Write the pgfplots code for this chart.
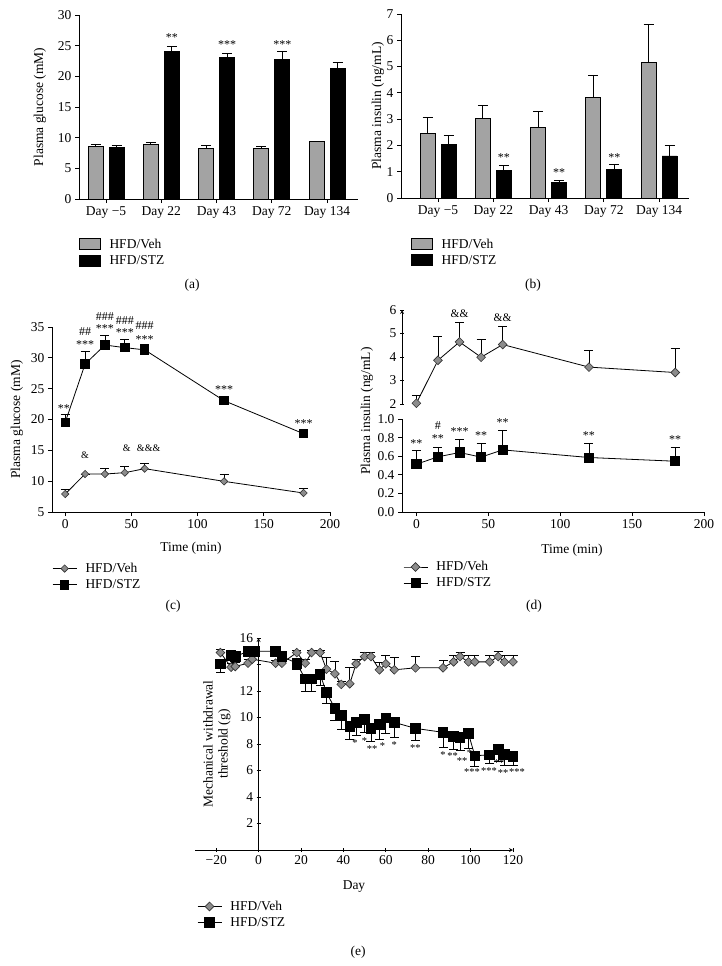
\documentclass[border=0pt]{standalone}
\usepackage{fontspec}
\setmainfont{Liberation Serif}
\usepackage{pgfplots}
\pgfplotsset{compat=1.18}
\newcommand{\fs}{\fontsize{13.5}{15}\selectfont}
\newcommand{\sfs}{\fontsize{12}{12}\selectfont}
\newcommand{\efs}{\fontsize{10.5}{11}\selectfont}
\newcommand{\afs}{\fontsize{10}{11}\selectfont}
\definecolor{vehbar}{RGB}{163,163,163}
\definecolor{vehmark}{RGB}{140,140,140}
\definecolor{edge}{RGB}{50,50,50}
\tikzset{st/.style={font=\sfs, inner sep=0pt}, est/.style={font=\efs, inner sep=0pt}}
\pgfplotsset{
  prism/.style={scale only axis, axis lines=left, axis line style={-, line width=0.8pt, black},
    tick align=outside, major tick length=4pt, tick style={line width=0.8pt, black},
    /pgf/number format/assume math mode=true, clip=false,
    tick label style={font=\fs}, label style={font=\fs},
    legend style={draw=none, fill=none, anchor=north west, font=\fs, inner sep=0pt, row sep=3.5pt,
      nodes={inner sep=1pt}, /tikz/every odd column/.append style={column sep=7.5pt}},
    legend cell align=left},
  barleg/.style={legend image code/.code={\draw[##1] (0pt,-5.5pt) rectangle (21pt,5.5pt);}},
  lineleg/.style={legend image code/.code={\draw[mark repeat=2,mark phase=2,##1] plot coordinates {(0pt,0pt) (12pt,0pt) (24pt,0pt)};}},
  errup/.style={error bars/.cd, y dir=plus, y explicit, error bar style={line width=0.8pt, black}, error mark options={rotate=90, black, line width=0.8pt, mark size=#1}},
  errdn/.style={error bars/.cd, y dir=minus, y explicit, error bar style={line width=0.8pt, black}, error mark options={rotate=90, black, line width=0.8pt, mark size=#1}},
  vehline/.style={black, line width=0.8pt, mark=square*, mark size=#1, mark options={rotate=45, fill=vehmark, draw=edge, line width=0.6pt}},
  stzline/.style={black, line width=0.8pt, mark=square*, mark size=#1, mark options={fill=black, draw=black}},
}
\begin{document}
\begin{tikzpicture}
\path[use as bounding box] (0pt,0pt) rectangle (722pt,-966pt);

% ---------------- (a) ----------------
\begin{axis}[prism, at={(79pt,-199pt)}, anchor=south west, width=279pt, height=184pt,
  xmin=-0.489, xmax=4.56, ymin=0, ymax=30,
  xtick={0,1,2,3,4}, xticklabels={Day −5,Day 22,Day 43,Day 72,Day 134},
  ytick={0,5,...,30},
  ylabel={Plasma glucose (mM)}, ylabel style={at={(axis description cs:-0.14,0.5)}, anchor=center},
  legend style={at={(axis description cs:0,-0.21)}}]
\addplot[ybar, bar width=15pt, bar shift=0pt, fill=vehbar, draw=black, line width=0.8pt, barleg, errup=5pt]
  coordinates {(-0.19,8.52) +- (0,0.32) (0.81,8.9) +- (0,0.38) (1.81,8.19) +- (0,0.49) (2.81,8.3) +- (0,0.27) (3.81,9.35) +- (0,0.05)};
\addlegendentry{HFD/Veh}
\addplot[ybar, bar width=15pt, bar shift=0pt, fill=black, draw=black, line width=0.8pt, barleg, errup=5pt]
  coordinates {(0.19,8.36) +- (0,0.43) (1.19,24.04) +- (0,0.86) (2.19,23.1) +- (0,0.67) (3.19,22.8) +- (0,1.2) (4.19,21.3) +- (0,0.95)};
\addlegendentry{HFD/STZ}
\node[st] at (axis cs:1.19,26.3) {**};
\node[st] at (axis cs:2.19,25.1) {***};
\node[st] at (axis cs:3.19,25.1) {***};
\end{axis}
\node[font=\fs] at (192pt,-285pt) {(a)};

% ---------------- (b) ----------------
\begin{axis}[prism, at={(401pt,-198pt)}, anchor=south west, width=288pt, height=184pt,
  xmin=-0.67, xmax=4.54, ymin=0, ymax=7,
  xtick={0,1,2,3,4}, xticklabels={Day −5,Day 22,Day 43,Day 72,Day 134},
  ytick={0,1,...,7},
  ylabel={Plasma insulin (ng/mL)}, ylabel style={at={(axis description cs:-0.08,0.5)}, anchor=center},
  legend style={at={(axis description cs:0.035,-0.215)}}]
\addplot[ybar, bar width=15pt, bar shift=0pt, fill=vehbar, draw=black, line width=0.8pt, barleg, errup=5pt]
  coordinates {(-0.19,2.44) +- (0,0.62) (0.81,3.04) +- (0,0.49) (1.81,2.7) +- (0,0.58) (2.81,3.82) +- (0,0.86) (3.81,5.16) +- (0,1.44)};
\addlegendentry{HFD/Veh}
\addplot[ybar, bar width=15pt, bar shift=0pt, fill=black, draw=black, line width=0.8pt, barleg, errup=5pt]
  coordinates {(0.19,2.04) +- (0,0.33) (1.19,1.06) +- (0,0.19) (2.19,0.58) +- (0,0.1) (3.19,1.09) +- (0,0.2) (4.19,1.6) +- (0,0.41)};
\addlegendentry{HFD/STZ}
\node[st] at (axis cs:1.19,1.52) {**};
\node[st] at (axis cs:2.19,0.95) {**};
\node[st] at (axis cs:3.19,1.52) {**};
\end{axis}
\node[font=\fs] at (533pt,-285pt) {(b)};

% ---------------- (c) ----------------
\begin{axis}[prism, at={(52pt,-512pt)}, anchor=south west, width=278pt, height=185pt,
  xmin=-10, xmax=200, ymin=5, ymax=35,
  xtick={0,50,...,200}, ytick={5,10,...,35},
  xlabel={Time (min)}, xlabel style={at={(axis description cs:0.5,-0.195)}, anchor=center},
  ylabel={Plasma glucose (mM)}, ylabel style={at={(axis description cs:-0.126,0.5)}, anchor=center},
  legend style={at={(axis description cs:0,-0.27)}}]
\addplot[vehline=2.6pt, lineleg, errup=4.5pt]
  coordinates {(0,7.92) +- (0,0.8) (15,11.16) +- (0,0) (30,11.16) +- (0,0.94) (45,11.38) +- (0,1.0) (60,12.03) +- (0,0.92) (120,9.97) +- (0,1.08) (180,8.08) +- (0,0.72)};
\addlegendentry{HFD/Veh}
\addplot[stzline=4.2pt, lineleg, errup=4.5pt]
  coordinates {(0,19.54) +- (0,1.26) (15,29.0) +- (0,2.05) (30,32.08) +- (0,1.57) (45,31.65) +- (0,1.4) (60,31.3) +- (0,0.9) (120,23.05) +- (0,0) (180,17.7) +- (0,0)};
\addlegendentry{HFD/STZ}
\node[st] at (axis cs:-1,21.8) {**};
\node[st] at (axis cs:15,32.2) {***};
\node[st] at (axis cs:15,34.2) {\#\#};
\node[st] at (axis cs:30,34.8) {***};
\node[st] at (axis cs:30,36.7) {\#\#\#};
\node[st] at (axis cs:45,34.1) {***};
\node[st] at (axis cs:45,36.1) {\#\#\#};
\node[st] at (axis cs:60,32.9) {***};
\node[st] at (axis cs:60,35.2) {\#\#\#};
\node[st] at (axis cs:120,24.8) {***};
\node[st] at (axis cs:180,19.3) {***};
\node[font=\afs, inner sep=0pt] at (axis cs:15,14.25) {\&};
\node[font=\afs, inner sep=0pt] at (axis cs:46.5,15.4) {\&};
\node[font=\afs, inner sep=0pt] at (axis cs:63,15.4) {\&\&\&};
\end{axis}
\node[font=\fs] at (173pt,-606pt) {(c)};

% ---------------- (d) upper ----------------
\begin{axis}[prism, at={(402pt,-404pt)}, anchor=south west, width=302pt, height=94pt,
  xmin=-10, xmax=200, ymin=2, ymax=6, hide x axis, axis y line=left,
  ytick={2,3,4,5,6}]
\addplot[vehline=3.1pt, errup=4.5pt]
  coordinates {(0,2.03) +- (0,0.33) (15,3.86) +- (0,1.02) (30,4.64) +- (0,0.84) (45,3.99) +- (0,0.77) (60,4.53) +- (0,0.78) (120,3.57) +- (0,0.72) (180,3.34) +- (0,1.02)};
\node[font=\fontsize{11.5}{12}\selectfont, inner sep=0pt] at (axis cs:30,5.85) {\&\&};
\node[font=\fontsize{11.5}{12}\selectfont, inner sep=0pt] at (axis cs:60,5.66) {\&\&};
\end{axis}

% ---------------- (d) lower ----------------
\begin{axis}[prism, at={(402pt,-512pt)}, anchor=south west, width=302pt, height=93pt,
  xmin=-10, xmax=200, ymin=0, ymax=1,
  xtick={0,50,...,200}, ytick={0,0.2,0.4,0.6,0.8,1.0},
  yticklabel style={/pgf/number format/.cd, fixed, fixed zerofill, precision=1},
  xlabel={Time (min)}, xlabel style={at={(axis description cs:0.563,-0.41)}, anchor=center},
  ylabel={Plasma insulin (ng/mL)}, ylabel style={at={(axis description cs:-0.116,1.085)}, anchor=center},
  legend style={at={(axis description cs:0.003,-0.52)}}]
\addlegendimage{vehline=3.1pt, lineleg}
\addlegendentry{HFD/Veh}
\addplot[stzline=4.6pt, lineleg, forget plot, errup=4.5pt]
  coordinates {(0,0.514) +- (0,0.146) (15,0.593) +- (0,0.107) (30,0.64) +- (0,0.146) (45,0.59) +- (0,0.15) (60,0.668) +- (0,0.212) (120,0.586) +- (0,0.154) (180,0.546) +- (0,0.15)};
\addlegendimage{stzline=4.6pt, lineleg}
\addlegendentry{HFD/STZ}
\node[st] at (axis cs:0,0.74) {**};
\node[st] at (axis cs:15,0.786) {**};
\node[st] at (axis cs:15,0.925) {\#};
\node[st] at (axis cs:30,0.864) {***};
\node[st] at (axis cs:45,0.82) {**};
\node[st] at (axis cs:60,0.96) {**};
\node[st] at (axis cs:120,0.82) {**};
\node[st] at (axis cs:180,0.78) {**};
\end{axis}
\node[font=\fs] at (534pt,-606pt) {(d)};

% ---------------- (e) ----------------
\begin{axis}[prism, at={(195pt,-850pt)}, anchor=south west, width=318pt, height=212pt,
  xmin=-30, xmax=120, ymin=0, ymax=16,
  axis x line=bottom, axis y line=middle, hide obscured x ticks=false,
  xtick={-20,0,20,40,60,80,100,120}, xticklabels={−20,0,20,40,60,80,100,120},
  ytick={2,4,6,8,10,12,14,16}, yticklabels={2,4,6,8,10,12,,16},
  xlabel={Day}, xlabel style={at={(axis description cs:0.5,-0.17)}, anchor=center},
  legend style={at={(axis description cs:0.006,-0.235)}}]
\addplot[vehline=3.1pt, lineleg, errup=4.5pt]
  coordinates {(-18,14.9) +- (0,0.25) (-13,13.8) +- (0,0.3) (-11,13.85) +- (0,0.3) (-5,14.1) +- (0,0.3) (-3,14.4) +- (0,0.3)
  (8,14.1) +- (0,0.2) (11,14.1) +- (0,0.2) (18,14.9) +- (0,0.2) (22,14.1) +- (0,0.3) (25,14.9) +- (0,0.2) (29,14.9) +- (0,0.2)
  (32,13.65) +- (0,0.9) (36,13.3) +- (0,0.95) (39,12.5) +- (0,0.2) (43,12.55) +- (0,1.2) (46,14.05) +- (0,0.3) (50,14.6) +- (0,0.35)
  (53,14.6) +- (0,0.35) (57,13.6) +- (0,0.55) (60,14.05) +- (0,0.6) (64,13.6) +- (0,0.9) (74,13.75) +- (0,0.85) (87,13.75) +- (0,0.55)
  (92,14.2) +- (0,0.45) (95,14.6) +- (0,0.35) (99,14.2) +- (0,0.45) (102,14.2) +- (0,0.45) (109,14.2) +- (0,0.45) (113,14.6) +- (0,0.4)
  (116,14.2) +- (0,0.5) (120,14.2) +- (0,0.5)};
\addlegendentry{HFD/Veh}
\addplot[stzline=4.8pt, lineleg, errdn=4.5pt]
  coordinates {(-18,14.05) +- (0,0.65) (-13,14.7) +- (0,0.3) (-11,14.6) +- (0,0.3) (-5,15.0) +- (0,0.1) (-2,15.0) +- (0,0.1)
  (8,15.0) +- (0,0.1) (11,14.6) +- (0,0.3) (18,14.1) +- (0,0.45) (22,12.9) +- (0,0.9) (25,12.9) +- (0,0.9) (29,13.25) +- (0,0.85)
  (32,11.9) +- (0,0.8) (36,10.67) +- (0,0.9) (39,10.14) +- (0,1.0) (43,9.33) +- (0,0.95) (46,9.63) +- (0,1.0) (50,9.84) +- (0,1.0)
  (53,9.2) +- (0,1.0) (57,9.46) +- (0,1.1) (60,9.96) +- (0,1.15) (64,9.63) +- (0,1.1) (74,9.18) +- (0,0.9) (87,8.88) +- (0,1.15)
  (92,8.57) +- (0,0.95) (95,8.52) +- (0,1.0) (99,8.78) +- (0,1.1) (102,7.11) +- (0,0.8) (109,7.19) +- (0,0.65) (113,7.6) +- (0,0.9)
  (116,7.2) +- (0,0.8) (120,7.06) +- (0,0.65)};
\addlegendentry{HFD/STZ}
\node[est] at (axis cs:45.5,8.07) {*};
\node[est] at (axis cs:50,8.2) {*};
\node[est] at (axis cs:53.5,7.6) {**};
\node[est] at (axis cs:58.5,7.85) {*};
\node[est] at (axis cs:64,7.95) {*};
\node[est] at (axis cs:74,7.7) {**};
\node[est] at (axis cs:87,7.18) {*};
\node[est] at (axis cs:91.5,7.06) {**};
\node[est] at (axis cs:96,6.75) {**};
\node[est] at (axis cs:99.5,7.3) {*};
\node[est] at (axis cs:100.7,5.85) {***};
\node[est] at (axis cs:108.7,5.95) {***};
\node[est] at (axis cs:113.5,6.55) {**};
\node[est] at (axis cs:115.3,5.8) {**};
\node[est] at (axis cs:121.9,5.88) {***};
\end{axis}
\node[font=\fs, rotate=90, align=center] at (217pt,-744pt) {Mechanical withdrawal\\threshold (g)};
\node[font=\fs] at (358pt,-952pt) {(e)};
\end{tikzpicture}
\end{document}
